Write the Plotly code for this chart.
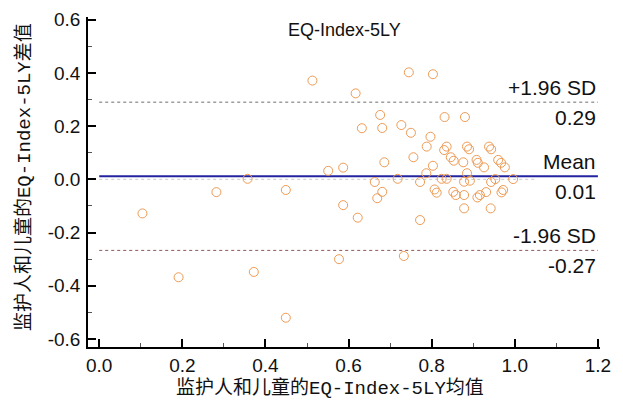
import plotly.graph_objects as go

# Bland-Altman data: mean of caregiver/child scores (x) vs difference (y)
mean_vals = [0.513, 0.551, 0.587, 0.357, 0.282, 0.449, 0.587, 0.104, 0.577, 0.191,
             0.372, 0.449, 0.745, 0.803, 0.617, 0.676, 0.831, 0.880, 0.632, 0.681,
             0.727, 0.750, 0.797, 0.788, 0.836, 0.830, 0.885, 0.890, 0.938, 0.943,
             0.756, 0.846, 0.853, 0.876, 0.908, 0.911, 0.926, 0.960, 0.967, 0.976,
             0.686, 0.803, 0.787, 0.885, 0.718, 0.824, 0.836, 0.996, 0.663, 0.772,
             0.878, 0.892, 0.943, 0.953, 0.681, 0.669, 0.807, 0.812, 0.852, 0.858,
             0.878, 0.910, 0.916, 0.931, 0.968, 0.972, 0.878, 0.942, 0.622, 0.772,
             0.733]
diff_vals = [0.371, 0.032, 0.044, 0.002, -0.048, -0.040, -0.097, -0.128, -0.300, -0.368,
             -0.348, -0.520, 0.402, 0.395, 0.323, 0.242, 0.234, 0.234, 0.192, 0.193,
             0.204, 0.175, 0.160, 0.123, 0.123, 0.110, 0.123, 0.113, 0.123, 0.113,
             0.083, 0.083, 0.070, 0.064, 0.073, 0.062, 0.045, 0.073, 0.062, 0.045,
             0.064, 0.051, 0.023, 0.023, 0.002, 0.002, 0.002, 0.001, -0.010, -0.010,
             -0.009, -0.005, -0.010, 0.001, -0.047, -0.071, -0.038, -0.050, -0.047, -0.059,
             -0.059, -0.068, -0.059, -0.048, -0.049, -0.040, -0.109, -0.109, -0.144, -0.153,
             -0.288]

mean_diff = 0.012
upper_loa = 0.29
lower_loa = -0.267
line_span = [0.0, 1.2]
zero_span = [0.0, 1.05]

x_ticks = [0.0, 0.2, 0.4, 0.6, 0.8, 1.0, 1.2]
x_ticklabels = ["0.0", "0.2", "0.4", "0.6", "0.8", "1.0", "1.2"]
y_ticks = [-0.6, -0.4, -0.2, 0.0, 0.2, 0.4, 0.6]
y_ticklabels = ["-0.6", "-0.4", "-0.2", "0.0", "0.2", "0.4", "0.6"]

title_text = "EQ-Index-5LY"
x_title = "监护人和儿童的EQ-Index-5LY均值"
y_title = "监护人和儿童的EQ-Index-5LY差值"

fig = go.Figure()

# zero reference (faint dotted)
fig.add_trace(go.Scatter(x=zero_span, y=[0, 0], mode="lines",
                         line=dict(color="#C8C8C8", width=1, dash="dot"),
                         hoverinfo="skip", showlegend=False))
# limits of agreement
fig.add_trace(go.Scatter(x=line_span, y=[upper_loa, upper_loa], mode="lines",
                         line=dict(color="#6E6E6E", width=1, dash="dot"),
                         hoverinfo="skip", showlegend=False))
fig.add_trace(go.Scatter(x=line_span, y=[lower_loa, lower_loa], mode="lines",
                         line=dict(color="#8C5A5A", width=1, dash="dot"),
                         hoverinfo="skip", showlegend=False))
# mean line
fig.add_trace(go.Scatter(x=line_span, y=[mean_diff, mean_diff], mode="lines",
                         line=dict(color="#2323A0", width=2),
                         hoverinfo="skip", showlegend=False))
# points
fig.add_trace(go.Scatter(x=mean_vals, y=diff_vals, mode="markers",
                         marker=dict(symbol="circle-open", size=9,
                                     color="#EE9B55", line=dict(width=1, color="#EE9B55")),
                         showlegend=False))

lab_font = dict(family="Liberation Sans, Arial, sans-serif", size=21, color="#111111")
for yv, top, bottom in [(upper_loa, "+1.96 SD", f"{upper_loa:.2f}"),
                        (mean_diff, "Mean", f"{mean_diff:.2f}"),
                        (lower_loa, "-1.96 SD", f"{lower_loa:.2f}")]:
    fig.add_annotation(x=line_span[1], y=yv, xref="x", yref="y", text=top,
                       showarrow=False, xanchor="right", yanchor="middle",
                       yshift=15, font=lab_font)
    fig.add_annotation(x=line_span[1], y=yv, xref="x", yref="y", text=bottom,
                       showarrow=False, xanchor="right", yanchor="middle",
                       yshift=-15, font=lab_font)

fig.add_annotation(x=0.5, y=0.961, xref="paper", yref="paper", text=title_text,
                   showarrow=False, xanchor="center", yanchor="middle",
                   font=dict(family="Liberation Sans, Arial, sans-serif", size=18, color="#111111"))

cjk_font = dict(family="Liberation Mono, Noto Sans CJK SC, monospace", size=19, color="#111111")
fig.add_annotation(x=0.473, y=-0.127, xref="paper", yref="paper", text=x_title,
                   showarrow=False, xanchor="center", yanchor="middle", font=cjk_font)
fig.add_annotation(x=-0.125, y=0.515, xref="paper", yref="paper", text=y_title,
                   showarrow=False, xanchor="center", yanchor="middle", textangle=-90,
                   font=cjk_font)

axis_common = dict(showline=True, linecolor="black", linewidth=1.5,
                   ticks="inside", ticklen=8, tickwidth=1.5, tickcolor="black",
                   showgrid=False, zeroline=False, mirror=False, automargin=False,
                   tickfont=dict(family="Liberation Sans, Arial, sans-serif", size=19, color="#111111"))

fig.update_xaxes(range=[-0.027, 1.205], tickvals=x_ticks, ticktext=x_ticklabels,
                 minor=dict(ticks="inside", ticklen=4, tickwidth=1, tickcolor="#555555", dtick=0.1),
                 ticklabelstandoff=0, **axis_common)
fig.update_yaxes(range=[-0.63, 0.61], tickvals=y_ticks, ticktext=y_ticklabels,
                 minor=dict(ticks="inside", ticklen=4, tickwidth=1, tickcolor="#555555", dtick=0.1),
                 ticklabelstandoff=2, **axis_common)

# The page body has an 8px default margin, so the figure is sized to fit the window.
fig.update_layout(width=607, height=395,
                  margin=dict(l=80, r=15, t=9, b=56, autoexpand=False),
                  plot_bgcolor="white", paper_bgcolor="white",
                  showlegend=False)

fig.write_html("out.html")
